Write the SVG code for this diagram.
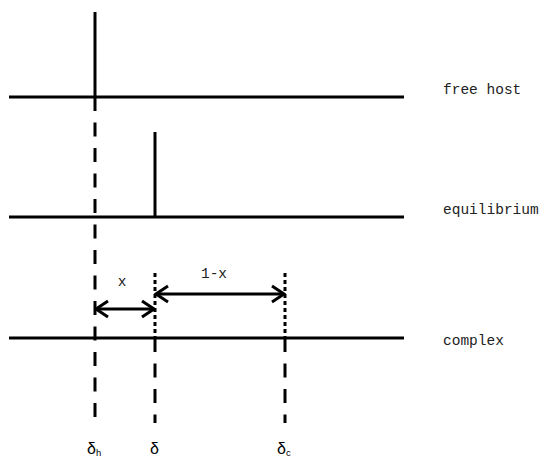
<svg xmlns="http://www.w3.org/2000/svg" width="547" height="457" viewBox="0 0 547 457">
<defs>
<style>
.ln{stroke:#000;stroke-width:3;fill:none}
.dash{stroke:#000;stroke-width:3;stroke-dasharray:14 11.5;fill:none}
.dot{stroke:#000;stroke-width:3;stroke-dasharray:4 3;fill:none}
.lbl{font-family:"Liberation Mono","DejaVu Sans Mono",monospace;font-size:14.5px;fill:#222}
.sym{font-family:"Liberation Sans",Arial,sans-serif;font-size:16px;fill:#000}
.sub{font-size:9.5px}
</style>
<marker id="ah" viewBox="0 0 16 20" refX="14" refY="10" markerWidth="16" markerHeight="20" markerUnits="userSpaceOnUse" orient="auto-start-reverse">
<path d="M2,2 L14,10 L2,18" fill="none" stroke="#000" stroke-width="3"/>
</marker>
</defs>
<g id="free-host">
<line class="ln" x1="9" y1="97" x2="404" y2="97"/>
<line class="ln" x1="95" y1="12" x2="95" y2="97"/>
<text class="lbl" x="443" y="94">free host</text>
</g>
<g id="equilibrium">
<line class="ln" x1="9" y1="217" x2="404" y2="217"/>
<line class="ln" x1="155" y1="132" x2="155" y2="217"/>
<text class="lbl" x="443" y="214">equilibrium</text>
</g>
<g id="complex">
<line class="ln" x1="9" y1="338" x2="404" y2="338"/>
<text class="lbl" x="443" y="345">complex</text>
</g>
<g id="connectors">
<line class="dash" x1="95" y1="97" x2="95" y2="418"/>
<line class="dot" x1="155" y1="273" x2="155" y2="338"/>
<line class="dash" x1="155" y1="338" x2="155" y2="423"/>
<line class="dot" x1="285" y1="273" x2="285" y2="338"/>
<line class="dash" x1="285" y1="338" x2="285" y2="423"/>
<line class="ln" x1="96" y1="309" x2="154" y2="309" marker-start="url(#ah)" marker-end="url(#ah)"/>
<line class="ln" x1="156" y1="294" x2="284" y2="294" marker-start="url(#ah)" marker-end="url(#ah)"/>
</g>
<g id="labels">
<text class="lbl" x="122" y="286" text-anchor="middle">x</text>
<text class="lbl" x="214" y="278" text-anchor="middle">1-x</text>
<text class="sym" x="87" y="454">δ<tspan class="sub" dy="2">h</tspan></text>
<text class="sym" x="150" y="454">δ</text>
<text class="sym" x="277" y="454">δ<tspan class="sub" dy="2">c</tspan></text>
</g>
</svg>
